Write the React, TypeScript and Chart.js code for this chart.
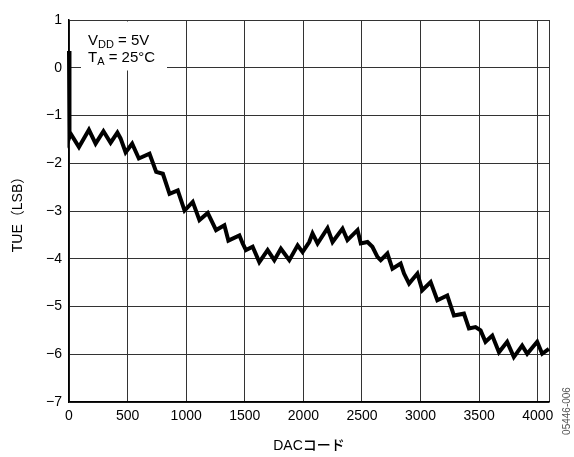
import React, { useEffect, useRef } from "react";
import { Chart, registerables } from "chart.js";

Chart.register(...registerables);

const dacCodes = [0, 4, 14, 85, 170, 227, 294, 355, 413, 440, 483, 539, 596, 687, 744, 801, 858, 928, 986, 1056, 1113, 1184, 1255, 1326, 1360, 1454, 1482, 1510, 1567, 1624, 1695, 1752, 1808, 1880, 1951, 1993, 2050, 2078, 2121, 2206, 2249, 2334, 2376, 2462, 2490, 2547, 2589, 2632, 2660, 2717, 2760, 2830, 2859, 2902, 2973, 3015, 3086, 3143, 3228, 3285, 3370, 3413, 3469, 3512, 3554, 3612, 3669, 3739, 3796, 3867, 3910, 3995, 4038, 4095];
const tueLsb = [0.35, -1.45, -1.38, -1.66, -1.3, -1.59, -1.33, -1.57, -1.36, -1.48, -1.77, -1.59, -1.9, -1.8, -2.18, -2.22, -2.64, -2.57, -2.99, -2.81, -3.19, -3.04, -3.4, -3.3, -3.62, -3.51, -3.68, -3.82, -3.75, -4.07, -3.82, -4.03, -3.79, -4.03, -3.72, -3.86, -3.65, -3.47, -3.68, -3.36, -3.65, -3.37, -3.61, -3.4, -3.68, -3.65, -3.75, -3.96, -4.03, -3.89, -4.21, -4.1, -4.31, -4.52, -4.31, -4.66, -4.49, -4.87, -4.77, -5.19, -5.15, -5.46, -5.43, -5.5, -5.74, -5.61, -5.96, -5.74, -6.06, -5.82, -5.99, -5.74, -5.99, -5.89];
const xTickValues = [0, 500, 1000, 1500, 2000, 2500, 3000, 3500, 4000];
const xMax = 4096;
const yMin = -7;
const yMax = 1;
const xTitle = "DACコード";
const yTitle = "TUE（LSB）";
const noteLine1 = ["V", "DD", " = 5V"];
const noteLine2 = ["T", "A", " = 25°C"];
const figureId = "05446-006";

const FONT = '"Liberation Sans", "Noto Sans CJK JP", sans-serif';

const notePlugin = {
  id: "note",
  beforeDatasetsDraw(chart: any) {
    const ctx = chart.ctx;
    const { left, top } = chart.chartArea;
    ctx.save();
    ctx.fillStyle = "#ffffff";
    ctx.fillRect(left + 12, top + 1.5, 86, 49);
    ctx.fillStyle = "#000";
    const drawSub = (parts: string[], x: number, y: number) => {
      ctx.font = `15px ${FONT}`;
      ctx.textBaseline = "alphabetic";
      ctx.textAlign = "left";
      ctx.fillText(parts[0], x, y);
      let cx = x + ctx.measureText(parts[0]).width;
      ctx.font = `11px ${FONT}`;
      ctx.fillText(parts[1], cx, y + 3);
      cx += ctx.measureText(parts[1]).width;
      ctx.font = `15px ${FONT}`;
      ctx.fillText(parts[2], cx, y);
    };
    drawSub(noteLine1, left + 19, top + 25);
    drawSub(noteLine2, left + 19, top + 42);
    ctx.restore();
  },
  afterDraw(chart: any) {
    const ctx = chart.ctx;
    ctx.save();
    ctx.translate(567, 411);
    ctx.rotate(-Math.PI / 2);
    ctx.font = `10px ${FONT}`;
    ctx.fillStyle = "#555";
    ctx.textAlign = "center";
    ctx.textBaseline = "middle";
    ctx.fillText(figureId, 0, 0);
    ctx.restore();
  },
};

export default function App() {
  const ref = useRef<HTMLCanvasElement>(null);
  useEffect(() => {
    if (!ref.current) return;
    const points = dacCodes.map((c, i) => ({ x: c, y: tueLsb[i] }));
    const chart = new Chart(ref.current, {
      type: "line",
      data: {
        datasets: [
          {
            data: points,
            borderColor: "#000",
            borderWidth: 4,
            pointRadius: 0,
            tension: 0,
            fill: false,
            clip: 4,
          } as any,
        ],
      },
      options: {
        animation: false,
        responsive: false,
        events: [],
        layout: { padding: { left: 0, top: 20, right: 25, bottom: 0 } },
        plugins: { legend: { display: false }, tooltip: { enabled: false } },
        scales: {
          x: {
            type: "linear",
            min: 0,
            max: xMax,
            afterBuildTicks: (s: any) => {
              s.ticks = [...xTickValues, xMax].map((v) => ({ value: v }));
            },
            afterFit: (s: any) => {
              s.height = 55;
            },
            grid: { color: "#333", lineWidth: 1, drawTicks: false },
            border: { color: "#000", width: 1.5 },
            ticks: {
              padding: 6,
              color: "#000",
              font: { family: FONT, size: 14 },
              maxRotation: 0,
              autoSkip: false,
              callback: (v: any) => (v === xMax ? "" : String(v)),
            },
            title: {
              display: true,
              text: xTitle,
              color: "#000",
              font: { family: FONT, size: 14, weight: "500" },
              padding: { top: 0, bottom: 2 },
            },
          },
          y: {
            type: "linear",
            min: yMin,
            max: yMax,
            afterFit: (s: any) => {
              s.width = 69;
            },
            grid: { color: "#333", lineWidth: 1, drawTicks: false },
            border: { color: "#000", width: 1.5 },
            ticks: {
              stepSize: 1,
              padding: 7,
              color: "#000",
              font: { family: FONT, size: 14 },
              callback: (v: any) => (v < 0 ? "\u2212" + Math.abs(v) : String(v)),
            },
            title: {
              display: true,
              text: yTitle,
              color: "#000",
              font: { family: FONT, size: 14 },
              padding: { top: 10, bottom: 0 },
            },
          },
        },
      },
      plugins: [notePlugin],
    });
    return () => chart.destroy();
  }, []);
  return (
    <div style={{ position: "absolute", left: 0, top: 0, width: 574, height: 457, background: "#fff" }}>
      <canvas ref={ref} width={574} height={457} style={{ width: 574, height: 457 }} />
    </div>
  );
}
